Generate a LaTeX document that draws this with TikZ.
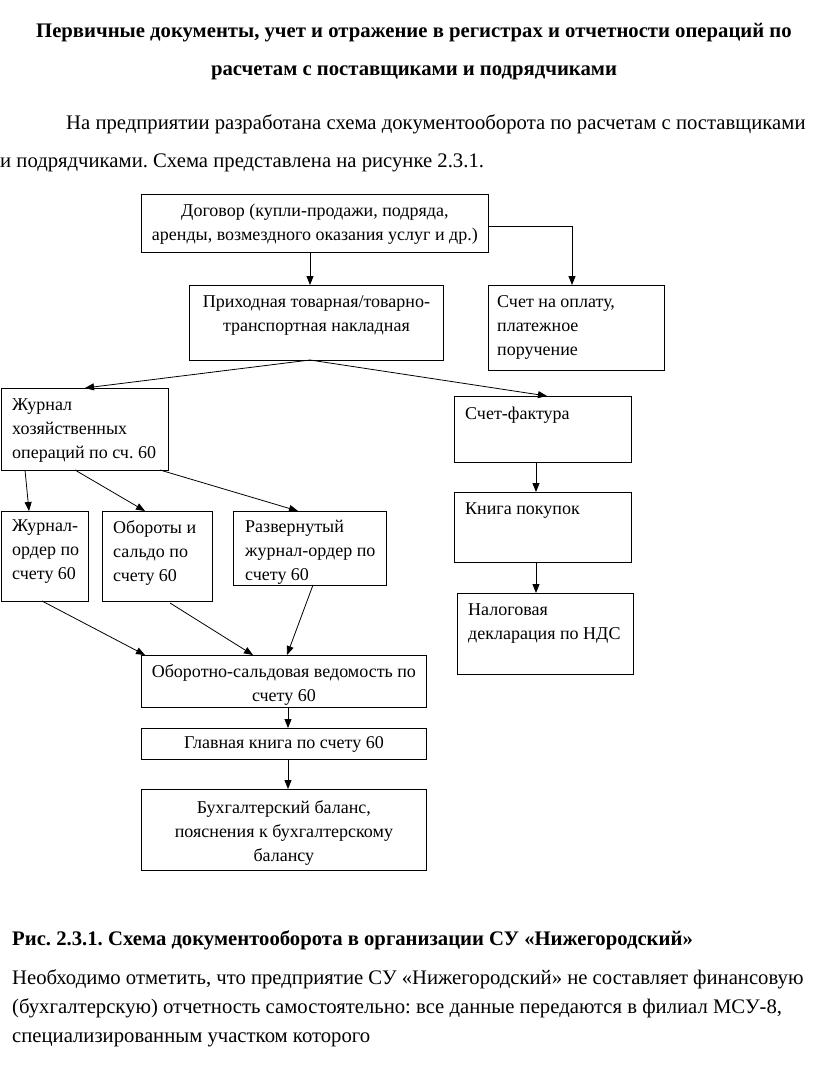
\documentclass[tikz,border=0pt]{standalone}
\usepackage{fontspec}
\setmainfont{Liberation Serif}
\usetikzlibrary{arrows.meta,calc,positioning}
\newcommand{\boxfont}{\fontsize{18}{24}\selectfont}
\newcommand{\bodyfont}{\fontsize{20.7}{29}\selectfont}
\frenchspacing

\begin{document}
\begin{tikzpicture}[x=1pt,y=-1pt,
  doc/.style={draw,line width=0.8pt,inner sep=0pt,anchor=north west},
  txt/.style={font=\boxfont,align=left,inner sep=0pt,anchor=north west},
  ctxt/.style={font=\boxfont,align=center,inner sep=0pt,anchor=north},
  arr/.style={-{Triangle[length=9pt,width=7pt]},line width=0.8pt},
  body/.style={font=\bodyfont,inner sep=0pt,anchor=base west}]
  \useasboundingbox (0,0) rectangle (816,1066);
  % заголовок и текст
  \node[body,font=\bodyfont\bfseries,anchor=base] (title1) at (414,37) {Первичные документы, учет и отражение в регистрах и отчетности операций по};
  \node[body,font=\bodyfont\bfseries,anchor=base] (title2) at (414,75) {расчетам с поставщиками и подрядчиками};
  \node[body] (par1) at (66,129) {На предприятии разработана схема документооборота по расчетам с поставщиками};
  \node[body] (par2) at (0,167) {и подрядчиками. Схема представлена на рисунке 2.3.1.};
  % верхний уровень
  \node[doc,minimum width=347pt,minimum height=58pt] (dog) at (141,194) {};
  \node[ctxt] (dogtxt) at ($(dog.north)+(0,10)$) {Договор (купли-продажи, подряда,\\аренды, возмездного оказания услуг и др.)};
  \node[doc,minimum width=254pt,minimum height=75pt] (pn) at (189,285) {};
  \node[ctxt] (pntxt) at ($(pn.north)+(0,10)$) {Приходная товарная/товарно-\\транспортная накладная};
  \node[doc,minimum width=176pt,minimum height=85pt] (sch) at (488,285) {};
  \node[txt] (schtxt) at ($(sch.north west)+(9,10)$) {Счет на оплату,\\платежное\\поручение};
  % регистры
  \node[doc,minimum width=167pt,minimum height=82pt] (zho) at (1,388) {};
  \node[txt] (zhotxt) at ($(zho.north west)+(11,11)$) {Журнал\\хозяйственных\\операций по сч. 60};
  \node[doc,minimum width=87pt,minimum height=90pt] (jo) at (1,511) {};
  \node[txt] (jotxt) at ($(jo.north west)+(11,9)$) {Журнал-\\ордер по\\счету 60};
  \node[doc,minimum width=110pt,minimum height=90pt] (ob) at (102,511) {};
  \node[txt] (obtxt) at ($(ob.north west)+(11,9)$) {Обороты и\\сальдо по\\счету 60};
  \node[doc,minimum width=153pt,minimum height=74pt] (rj) at (233,511) {};
  \node[txt] (rjtxt) at ($(rj.north west)+(12,9)$) {Развернутый\\журнал-ордер по\\счету 60};
  % НДС
  \node[doc,minimum width=177pt,minimum height=66pt] (sf) at (454,396) {};
  \node[txt] (sftxt) at ($(sf.north west)+(11,11)$) {Счет-фактура};
  \node[doc,minimum width=177pt,minimum height=70pt] (kp) at (454,492) {};
  \node[txt] (kptxt) at ($(kp.north west)+(11,11)$) {Книга покупок};
  \node[doc,minimum width=176pt,minimum height=81pt] (nds) at (457,593) {};
  \node[txt] (ndstxt) at ($(nds.north west)+(11,11)$) {Налоговая\\декларация по НДС};
  % отчетность
  \node[doc,minimum width=285pt,minimum height=52pt] (osv) at (141,655) {};
  \node[ctxt] (osvtxt) at ($(osv.north)+(0,9)$) {Оборотно-сальдовая ведомость по\\счету 60};
  \node[doc,minimum width=285pt,minimum height=31pt] (gk) at (141,728) {};
  \node[ctxt] (gktxt) at ($(gk.north)+(0,8)$) {Главная книга по счету 60};
  \node[doc,minimum width=285pt,minimum height=81pt] (bb) at (141,789) {};
  \node[ctxt] (bbtxt) at ($(bb.north)+(0,11)$) {Бухгалтерский баланс,\\пояснения к бухгалтерскому\\балансу};
  % стрелки
  \coordinate (pnb) at (310,360);
  \draw[arr] (dog.south -| pnb) -- (pn.north -| pnb);
  \draw[arr] (dog.east |- 0,226) -| ($(sch.north west)+(84,0)$);
  \draw[arr] (pnb) -- (85,388);
  \draw[arr] (pnb) -- (547,396);
  \draw[arr] (25,470) -- (29,511);
  \draw[arr] (75,470) -- (145,511);
  \draw[arr] (160,470) -- (298,511);
  \draw[arr] (sf.south -| 536,0) -- (kp.north -| 536,0);
  \draw[arr] (kp.south -| 536,0) -- (nds.north -| 536,0);
  \draw[arr] (42,601) -- (145,655);
  \draw[arr] (170,603) -- (253,655);
  \draw[arr] (313,585) -- (287,655);
  \draw[arr] (osv.south -| 288,0) -- (gk.north -| 288,0);
  \draw[arr] (gk.south -| 288,0) -- (bb.north -| 288,0);
  % подпись и текст
  \node[body,font=\bodyfont\bfseries] (cap) at (12,945) {Рис. 2.3.1. Схема документооборота в организации СУ «Нижегородский»};
  \node[body] (par3) at (12,984) {Необходимо отметить, что предприятие СУ «Нижегородский» не составляет финансовую};
  \node[body] (par4) at (12,1013) {(бухгалтерскую) отчетность самостоятельно: все данные передаются в филиал МСУ-8,};
  \node[body] (par5) at (12,1042) {специализированным участком которого};
\end{tikzpicture}
\end{document}
